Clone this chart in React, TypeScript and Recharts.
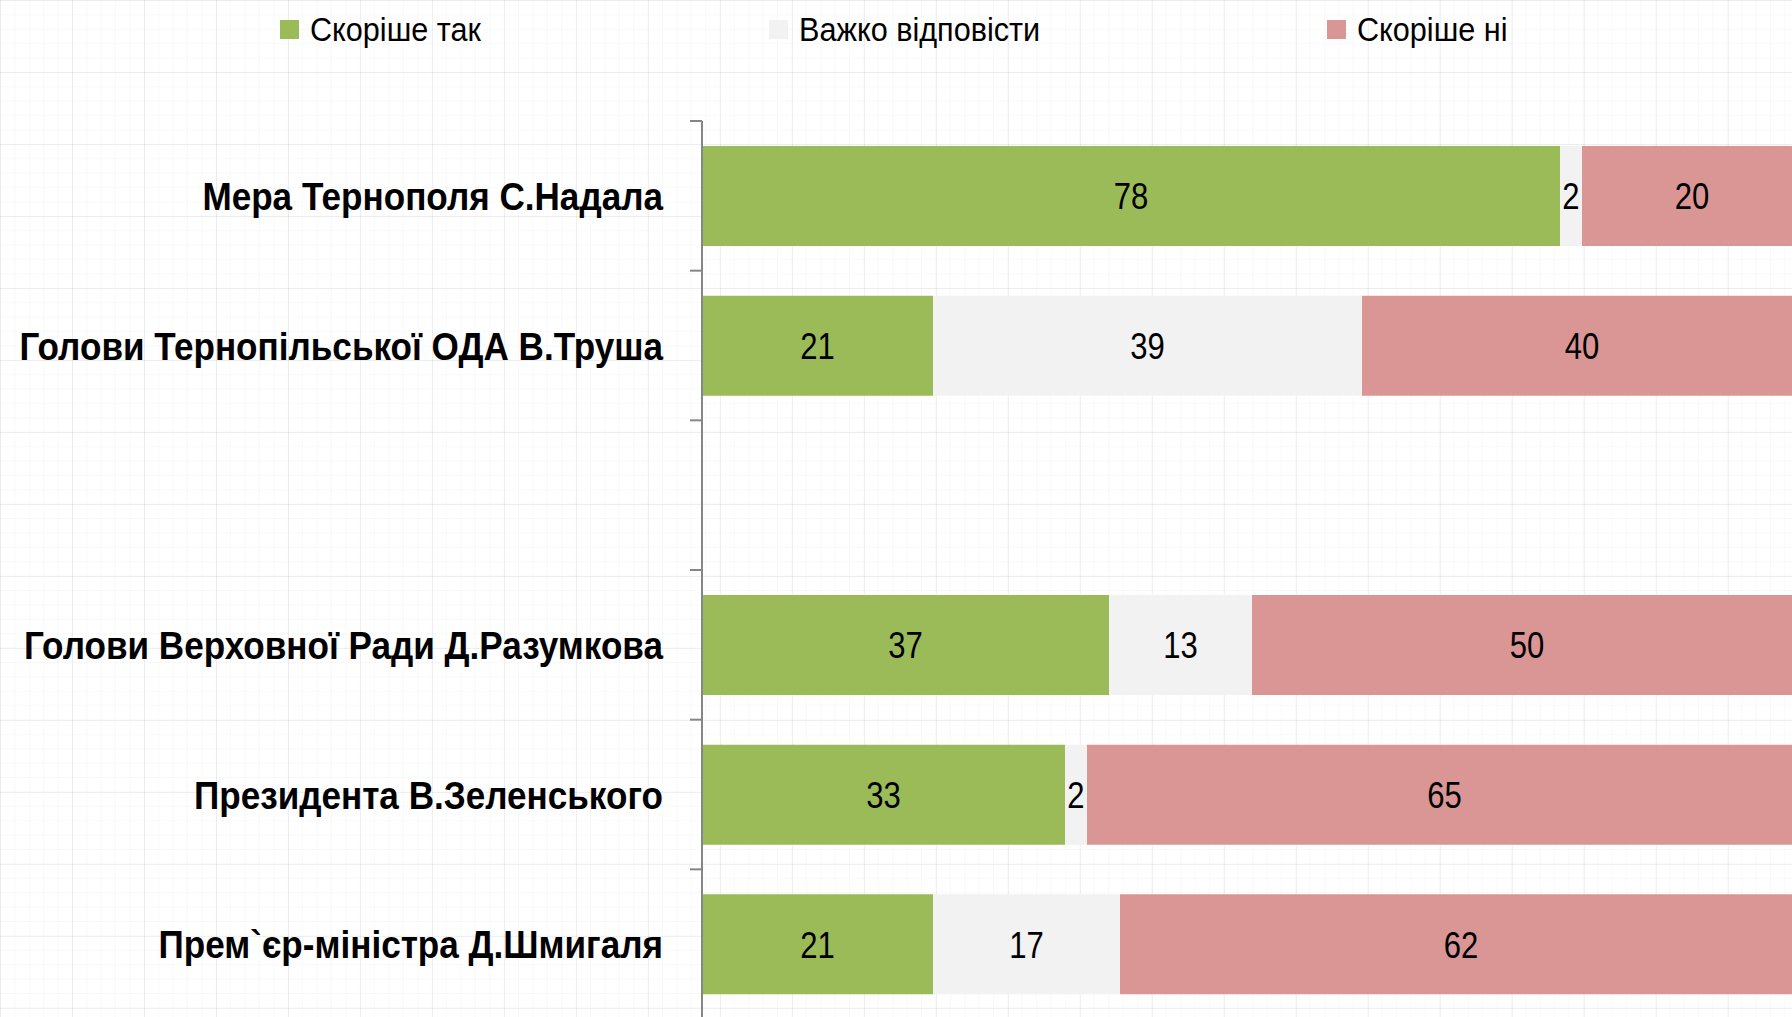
import React from "react";
import { BarChart, Bar, XAxis, YAxis, LabelList } from "recharts";

const categories: string[] = [
  "Мера Тернополя С.Надала",
  "Голови Тернопільської ОДА В.Труша",
  "",
  "Голови Верховної Ради Д.Разумкова",
  "Президента В.Зеленського",
  "Прем`єр-міністра Д.Шмигаля",
];
const yesValues: (number | null)[] = [78, 21, null, 37, 33, 21];
const hardValues: (number | null)[] = [2, 39, null, 13, 2, 17];
const noValues: (number | null)[] = [20, 40, null, 50, 65, 62];

const seriesNames = ["Скоріше так", "Важко відповісти", "Скоріше ні"];
const seriesKeys = ["yes", "hard", "no"];
const seriesColors = ["#9BBB59", "#F2F2F2", "#D99694"];

const data = categories.map((name, i) => ({
  name,
  yes: yesValues[i],
  hard: hardValues[i],
  no: noValues[i],
}));

const FONT = "'Liberation Sans', Arial, sans-serif";
const TICK_MARGIN = 39;

const CategoryTick = (props: any) => {
  const { x, y, payload, index, visibleTicksCount } = props;
  const half = payload && payload.offset ? payload.offset : 74.8;
  const axisX = x + TICK_MARGIN;
  const isLast = index === (visibleTicksCount ?? categories.length) - 1;
  return (
    <g>
      <line x1={axisX - 12} x2={axisX} y1={y - half} y2={y - half} stroke="#868686" strokeWidth={2} />
      {isLast && (
        <line x1={axisX - 12} x2={axisX} y1={y + half} y2={y + half} stroke="#868686" strokeWidth={2} />
      )}
      <text
        transform={`translate(${x},${y}) scale(0.9,1)`}
        x={0}
        y={0}
        dy="0.36em"
        textAnchor="end"
        fontFamily={FONT}
        fontWeight="bold"
        fontSize={39}
        fill="#000"
      >
        {payload.value}
      </text>
    </g>
  );
};

const ValueLabel = (props: any) => {
  const { x, y, width, height, value } = props;
  if (value === null || value === undefined || value === "") return null;
  const cx = Number(x) + Number(width) / 2;
  const cy = Number(y) + Number(height) / 2;
  return (
    <text
      transform={`translate(${cx},${cy}) scale(0.84,1)`}
      x={0}
      y={0}
      dy="0.36em"
      textAnchor="middle"
      fontFamily={FONT}
      fontSize={37}
      fill="#000"
    >
      {value}
    </text>
  );
};

const legendItemWidths = [489, 558, 300];

export default function App() {
  return (
    <div
      style={{
        position: "absolute",
        left: 0,
        top: 0,
        width: 1792,
        height: 1017,
        overflow: "hidden",
        backgroundColor: "#ffffff",
        backgroundImage:
          "linear-gradient(to right, rgba(0,0,0,0.05) 1px, transparent 1px), linear-gradient(to bottom, rgba(0,0,0,0.05) 1px, transparent 1px), linear-gradient(to right, rgba(0,0,0,0.022) 1px, transparent 1px), linear-gradient(to bottom, rgba(0,0,0,0.022) 1px, transparent 1px)",
        backgroundSize: "72px 72px, 72px 72px, 14.4px 14.4px, 14.4px 14.4px",
      }}
    >
      <div
        style={{
          position: "absolute",
          left: 280,
          top: 0,
          height: 58,
          display: "flex",
          alignItems: "center",
          fontFamily: FONT,
          fontSize: 34,
          color: "#000",
          whiteSpace: "nowrap",
        }}
      >
        {seriesNames.map((n, i) => (
          <div
            key={n}
            style={{ display: "flex", alignItems: "center", width: legendItemWidths[i] }}
          >
            <span
              style={{
                display: "inline-block",
                width: 19,
                height: 19,
                background: seriesColors[i],
                marginRight: 11,
                flex: "none",
              }}
            />
            <span
              style={{
                display: "inline-block",
                transform: "scaleX(0.9)",
                transformOrigin: "left center",
              }}
            >
              {n}
            </span>
          </div>
        ))}
      </div>
      <div style={{ position: "absolute", left: 0, top: 0 }}>
        <BarChart
          width={1810}
          height={1020}
          data={data}
          layout="vertical"
          margin={{ top: 121, right: 8, bottom: 1, left: 0 }}
          barSize={100}
        >
          <XAxis type="number" domain={[0, 100]} hide />
          <YAxis
            type="category"
            dataKey="name"
            width={702}
            axisLine={{ stroke: "#868686", strokeWidth: 2 }}
            tickLine={false}
            tickSize={0}
            tickMargin={TICK_MARGIN}
            interval={0}
            tick={<CategoryTick />}
          />
          {seriesKeys.map((k, i) => (
            <Bar
              key={k}
              dataKey={k}
              name={seriesNames[i]}
              stackId="a"
              fill={seriesColors[i]}
              isAnimationActive={false}
            >
              <LabelList dataKey={k} content={<ValueLabel />} />
            </Bar>
          ))}
        </BarChart>
      </div>
    </div>
  );
}
